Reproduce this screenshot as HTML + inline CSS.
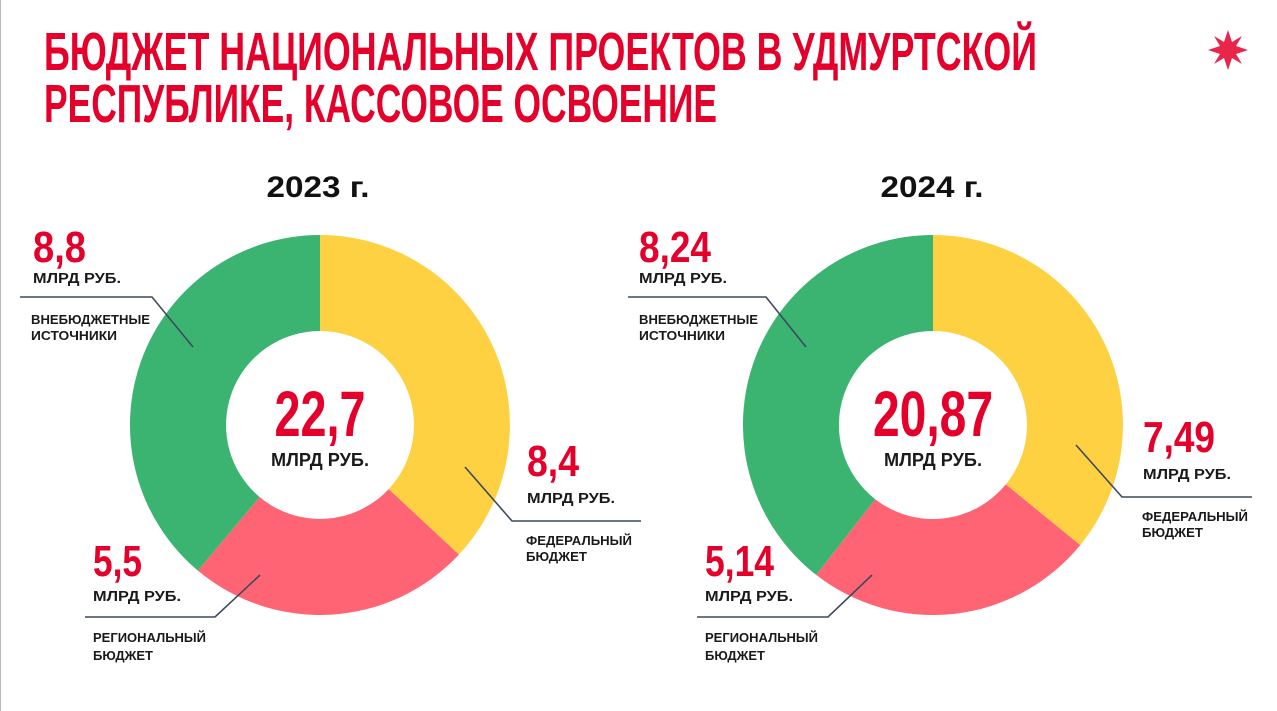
<!DOCTYPE html>
<html><head><meta charset="utf-8"><style>
html,body{margin:0;padding:0;background:#fff;}
svg{display:block;}
text{font-family:"Liberation Sans",sans-serif;}
.t{fill:#e4002b;font-weight:bold;}
.b{fill:#1a1a1a;font-weight:bold;}
</style></head><body>
<svg width="1277" height="711" viewBox="0 0 1277 711" xmlns="http://www.w3.org/2000/svg">
<rect x="0" y="0" width="1277" height="711" fill="#fff"/>
<line x1="0.5" y1="0" x2="0.5" y2="711" stroke="#bbb" stroke-width="1"/>
<text class="t" x="44" y="70" font-size="54" textLength="993" lengthAdjust="spacingAndGlyphs">БЮДЖЕТ НАЦИОНАЛЬНЫХ ПРОЕКТОВ В УДМУРТСКОЙ</text>
<text class="t" x="44" y="122" font-size="54" textLength="673" lengthAdjust="spacingAndGlyphs">РЕСПУБЛИКЕ, КАССОВОЕ ОСВОЕНИЕ</text>
<g transform="translate(1228,50)" fill="#e8254a">
<polygon points="0,-20 4,-8 14,-14 8,-4 20,0 8,4 14,14 4,8 0,20 -4,8 -14,14 -8,4 -20,0 -8,-4 -14,-14 -4,-8"/>
</g>
<text x="318" y="197" font-size="30" text-anchor="middle" fill="#111" font-weight="bold" textLength="103" lengthAdjust="spacingAndGlyphs">2023 г.</text>
<text x="932" y="197" font-size="30" text-anchor="middle" fill="#111" font-weight="bold" textLength="103" lengthAdjust="spacingAndGlyphs">2024 г.</text>

<path d="M320,235 A190,190 0 0 1 458.9,554.6 L388.7,489.1 A94,94 0 0 0 320,331 Z" fill="#fed143"/>
<path d="M458.9,554.6 A190,190 0 0 1 197.9,570.6 L259.6,497.0 A94,94 0 0 0 388.7,489.1 Z" fill="#fe6474"/>
<path d="M197.9,570.6 A190,190 0 0 1 320,235 L320,331 A94,94 0 0 0 259.6,497.0 Z" fill="#3bb472"/>

<path d="M933,235 A190,190 0 0 1 1080.2,545.1 L1005.8,484.4 A94,94 0 0 0 933,331 Z" fill="#fed143"/>
<path d="M1080.2,545.1 A190,190 0 0 1 816.2,574.9 L875.2,499.2 A94,94 0 0 0 1005.8,484.4 Z" fill="#fe6474"/>
<path d="M816.2,574.9 A190,190 0 0 1 933,235 L933,331 A94,94 0 0 0 875.2,499.2 Z" fill="#3bb472"/>

<g stroke="#3d4a5c" stroke-width="1.6" fill="none">
<polyline points="20,297 152,297 193,347"/>
<polyline points="465,467 512,521 641,521"/>
<polyline points="260,575 215,617 85,617"/>
<polyline points="628,297 766,297 806,347"/>
<polyline points="1076,445 1122,497 1252,497"/>
<polyline points="872,575 828,617 697,617"/>
</g>

<text class="t" x="33" y="262" font-size="44" textLength="53" lengthAdjust="spacingAndGlyphs">8,8</text>
<text class="b" x="33" y="283" font-size="15" textLength="88" lengthAdjust="spacingAndGlyphs">МЛРД РУБ.</text>
<text class="b" x="31" y="324" font-size="12.5" textLength="119" lengthAdjust="spacingAndGlyphs">ВНЕБЮДЖЕТНЫЕ</text>
<text class="b" x="31" y="340" font-size="12.5" textLength="86" lengthAdjust="spacingAndGlyphs">ИСТОЧНИКИ</text>

<text class="t" x="320" y="436" font-size="64" text-anchor="middle" textLength="91" lengthAdjust="spacingAndGlyphs">22,7</text>
<text class="b" x="320" y="466" font-size="18" text-anchor="middle" textLength="98" lengthAdjust="spacingAndGlyphs">МЛРД РУБ.</text>

<text class="t" x="527" y="476" font-size="44" textLength="52" lengthAdjust="spacingAndGlyphs">8,4</text>
<text class="b" x="527" y="503" font-size="15" textLength="88" lengthAdjust="spacingAndGlyphs">МЛРД РУБ.</text>
<text class="b" x="526" y="545" font-size="12.5" textLength="106" lengthAdjust="spacingAndGlyphs">ФЕДЕРАЛЬНЫЙ</text>
<text class="b" x="526" y="561" font-size="12.5" textLength="61" lengthAdjust="spacingAndGlyphs">БЮДЖЕТ</text>

<text class="t" x="93" y="576" font-size="44" textLength="49" lengthAdjust="spacingAndGlyphs">5,5</text>
<text class="b" x="93" y="601" font-size="15" textLength="88" lengthAdjust="spacingAndGlyphs">МЛРД РУБ.</text>
<text class="b" x="93" y="642" font-size="12.5" textLength="113" lengthAdjust="spacingAndGlyphs">РЕГИОНАЛЬНЫЙ</text>
<text class="b" x="93" y="660" font-size="12.5" textLength="60" lengthAdjust="spacingAndGlyphs">БЮДЖЕТ</text>

<text class="t" x="639" y="262" font-size="44" textLength="72" lengthAdjust="spacingAndGlyphs">8,24</text>
<text class="b" x="639" y="283" font-size="15" textLength="88" lengthAdjust="spacingAndGlyphs">МЛРД РУБ.</text>
<text class="b" x="639" y="324" font-size="12.5" textLength="119" lengthAdjust="spacingAndGlyphs">ВНЕБЮДЖЕТНЫЕ</text>
<text class="b" x="639" y="340" font-size="12.5" textLength="86" lengthAdjust="spacingAndGlyphs">ИСТОЧНИКИ</text>

<text class="t" x="933" y="436" font-size="64" text-anchor="middle" textLength="120" lengthAdjust="spacingAndGlyphs">20,87</text>
<text class="b" x="933" y="466" font-size="18" text-anchor="middle" textLength="98" lengthAdjust="spacingAndGlyphs">МЛРД РУБ.</text>

<text class="t" x="1143" y="452" font-size="44" textLength="72" lengthAdjust="spacingAndGlyphs">7,49</text>
<text class="b" x="1143" y="479" font-size="15" textLength="88" lengthAdjust="spacingAndGlyphs">МЛРД РУБ.</text>
<text class="b" x="1142" y="521" font-size="12.5" textLength="106" lengthAdjust="spacingAndGlyphs">ФЕДЕРАЛЬНЫЙ</text>
<text class="b" x="1142" y="537" font-size="12.5" textLength="61" lengthAdjust="spacingAndGlyphs">БЮДЖЕТ</text>

<text class="t" x="705" y="576" font-size="44" textLength="69" lengthAdjust="spacingAndGlyphs">5,14</text>
<text class="b" x="705" y="601" font-size="15" textLength="88" lengthAdjust="spacingAndGlyphs">МЛРД РУБ.</text>
<text class="b" x="705" y="642" font-size="12.5" textLength="113" lengthAdjust="spacingAndGlyphs">РЕГИОНАЛЬНЫЙ</text>
<text class="b" x="705" y="660" font-size="12.5" textLength="60" lengthAdjust="spacingAndGlyphs">БЮДЖЕТ</text>
</svg>
</body></html>
